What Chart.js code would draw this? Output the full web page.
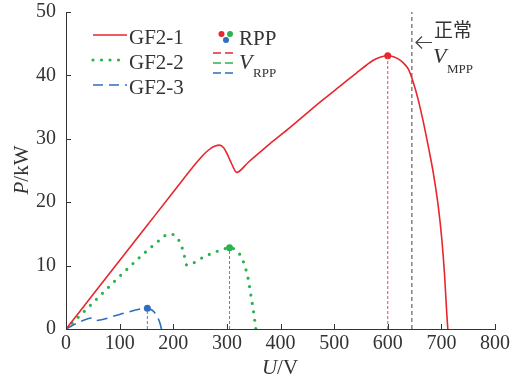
<!DOCTYPE html>
<html><head><meta charset="utf-8">
<script src="https://cdn.jsdelivr.net/npm/chart.js@4/dist/chart.umd.min.js"></script>
<style>html,body{margin:0;padding:0;background:#fff;}#wrap{width:510px;height:381px;}</style>
</head><body><div id="wrap"><canvas id="c" width="510" height="381"></canvas></div>
<script>
// ---- data ----
const xTicks = [0,100,200,300,400,500,600,700,800];
const yTicks = [0,10,20,30,40,50];
const gf1U = [0,50,100,150,200,240,250,260,270,278,286,294,300,306,312,318,340,380,418,450,480,511,542,560,573,587,600,612,623,632,639,648,657,667,677,685,694,701,706,710,712];
const gf1P = [0,5.4,10.8,16.2,21.6,25.9,26.9,27.8,28.5,28.85,29.0,28.6,27.7,26.6,25.5,24.7,26.3,29.2,31.8,34.1,36.2,38.3,40.4,41.6,42.4,42.9,43.1,42.9,42.4,41.7,40.9,38.8,36.1,32.4,28.2,24.6,19.5,14.0,8.5,2.5,0];
const gf2U = [0,180,190,200,208,215,220,225,260,290,305,316,326,334,340,345,350,354];
const gf2P = [0,14.4,14.95,14.9,14.3,13.2,11.8,10.1,11.5,12.5,12.8,12.5,11.5,9.8,7.8,5.2,2.6,0];
const gf3U = [0,20,51,57,100,151.7,160,166,175,178];
const gf3P = [0,0.9,1.75,1.35,2.3,3.26,3.0,2.5,1.0,0];
const rppU = [600,305,151.7];
const rppP = [43.1,12.8,3.26];
const vmppU = 645;
const colors = ['#e8262e','#2bb24c','#2d6fbd'];
const vColors = ['#ee4450','#2bb24c','#4a85cc'];

const pts = (u,p)=>u.map((v,i)=>({x:v,y:p[i]}));
const serif = '"Liberation Serif","DejaVu Serif",serif';
const txt = '#333333';

const datasets = [
  {data:pts(gf1U,gf1P),borderColor:colors[0],borderWidth:1.6,cubicInterpolationMode:'monotone'},
  {data:pts(gf2U,gf2P),borderColor:colors[1],borderWidth:3.2,borderDash:[0,8.5],borderCapStyle:'round',cubicInterpolationMode:'monotone'},
  {data:pts(gf3U,gf3P),borderColor:colors[2],borderWidth:1.6,borderDash:[11,6],cubicInterpolationMode:'monotone'},
];
rppU.forEach((u,i)=>datasets.push({data:[{x:u,y:0},{x:u,y:rppP[i]}],borderColor:vColors[i],borderWidth:1,borderDash:[3,2]}));
datasets.push({data:[{x:vmppU,y:0},{x:vmppU,y:50}],borderColor:'#444',borderWidth:1,borderDash:[4,3]});
rppU.forEach((u,i)=>datasets.push({data:[{x:u,y:rppP[i]}],showLine:false,pointRadius:3.5,pointBackgroundColor:colors[i],pointBorderWidth:0}));
datasets.forEach(d=>{ if(d.showLine===undefined) d.showLine=true; if(d.pointRadius===undefined) d.pointRadius=0; d.fill=false; });

const deco = {
  id:'deco',
  afterDraw(chart){
    const ctx = chart.ctx, xs = chart.scales.x, ys = chart.scales.y;
    const a = chart.chartArea;
    ctx.save();
    ctx.strokeStyle = '#333'; ctx.lineWidth = 1;
    xTicks.forEach(v=>{const px=Math.round(xs.getPixelForValue(v))+0.5; ctx.beginPath(); ctx.moveTo(px,a.bottom); ctx.lineTo(px,a.bottom-5); ctx.stroke();});
    yTicks.forEach(v=>{const py=Math.round(ys.getPixelForValue(v))+0.5; ctx.beginPath(); ctx.moveTo(a.left,py); ctx.lineTo(a.left+5,py); ctx.stroke();});
    ctx.fillStyle = txt; ctx.textBaseline='middle';
    ctx.font = 'italic 21px '+serif;
    let w1 = ctx.measureText('U').width; ctx.font='21px '+serif; let w2=ctx.measureText('/V').width;
    let cx = 280 - (w1+w2)/2;
    ctx.font = 'italic 21px '+serif; ctx.textAlign='left'; ctx.fillText('U',cx,368);
    ctx.font = '21px '+serif; ctx.fillText('/V',cx+w1,368);
    ctx.save(); ctx.translate(22,170); ctx.rotate(-Math.PI/2);
    ctx.font = 'italic 21px '+serif; w1 = ctx.measureText('P').width; ctx.font='21px '+serif; w2=ctx.measureText('/kW').width;
    cx = -(w1+w2)/2;
    ctx.font = 'italic 21px '+serif; ctx.fillText('P',cx,0);
    ctx.font = '21px '+serif; ctx.fillText('/kW',cx+w1,0);
    ctx.restore();
    const leg = [['GF2-1',38],['GF2-2',63],['GF2-3',88]];
    leg.forEach((l,i)=>{
      ctx.save(); ctx.strokeStyle=colors[i];
      if(i===0){ctx.lineWidth=1.6; ctx.setLineDash([]);}
      if(i===1){ctx.lineWidth=3.2; ctx.lineCap='round'; ctx.setLineDash([0,8.5]);}
      if(i===2){ctx.lineWidth=1.6; ctx.setLineDash([10,6]);}
      ctx.beginPath(); ctx.moveTo(93,l[1]-3); ctx.lineTo(127,l[1]-3); ctx.stroke(); ctx.restore();
      ctx.font='21px '+serif; ctx.fillStyle=txt; ctx.fillText(l[0],129,l[1]);
    });
    [[221.5,34],[230,34],[226,40]].forEach((p,i)=>{ctx.beginPath(); ctx.fillStyle=colors[i]; ctx.arc(p[0],p[1],3,0,Math.PI*2); ctx.fill();});
    ctx.fillStyle=txt; ctx.font='21px '+serif; ctx.fillText('RPP',239,39);
    [53,63,73].forEach((y,i)=>{ctx.save(); ctx.strokeStyle=colors[i]; ctx.lineWidth=1.4; ctx.setLineDash([8,4]); ctx.beginPath(); ctx.moveTo(213,y); ctx.lineTo(237,y); ctx.stroke(); ctx.restore();});
    ctx.fillStyle=txt; ctx.font='italic 22px '+serif; ctx.fillText('V',239,63);
    ctx.font='13px '+serif; ctx.fillText('RPP',253,74);
    ctx.strokeStyle='#444'; ctx.lineWidth=1.2; ctx.setLineDash([]);
    ctx.beginPath(); ctx.moveTo(432,42.5); ctx.lineTo(416,42.5); ctx.moveTo(422,36.5); ctx.lineTo(416,42.5); ctx.lineTo(422,48.5); ctx.stroke();
    ctx.fillStyle=txt; ctx.font='19px "Noto Sans CJK SC",sans-serif'; ctx.fillText('正常',434,30);
    ctx.font='italic 22px '+serif; ctx.fillText('V',433,57);
    ctx.font='13px '+serif; ctx.fillText('MPP',447,70);
    ctx.restore();
  }
};

new Chart(document.getElementById('c'),{
  type:'scatter',
  data:{datasets},
  options:{
    responsive:false, animation:false, devicePixelRatio:1,
    layout:{padding:{top:12,right:15,left:0,bottom:0}},
    plugins:{legend:{display:false},tooltip:{enabled:false}},
    scales:{
      x:{type:'linear',min:0,max:800,
         afterBuildTicks:s=>{s.ticks=xTicks.map(v=>({value:v}));},
         afterFit:s=>{s.height=52; s.paddingLeft=0; s.paddingRight=0;},
         grid:{display:false,drawTicks:false,tickLength:0},border:{display:true,color:'#333',width:1},
         ticks:{font:{family:serif,size:20},color:txt,padding:3,maxRotation:0}},
      y:{type:'linear',min:0,max:50,
         afterBuildTicks:s=>{s.ticks=yTicks.map(v=>({value:v}));},
         afterFit:s=>{s.width=66; s.paddingTop=0; s.paddingBottom=0;},
         grid:{display:false,drawTicks:false,tickLength:0},border:{display:true,color:'#333',width:1},
         ticks:{font:{family:serif,size:20},color:txt,padding:10}}
    }
  },
  plugins:[deco]
});
</script></body></html>
